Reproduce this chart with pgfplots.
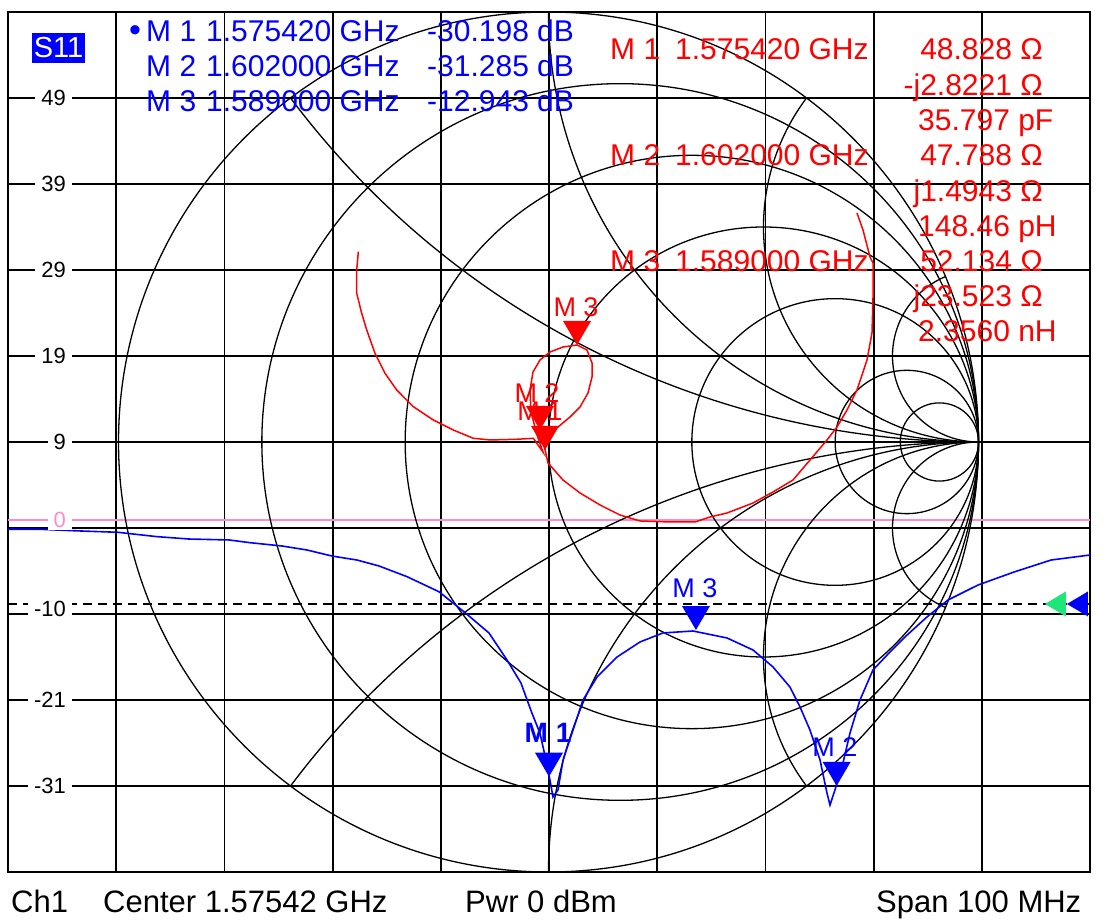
\documentclass[border=0pt]{standalone}
\usepackage{pgfplots}
\pgfplotsset{compat=1.18}
\usepackage{fontspec}
\setmainfont{Liberation Sans}
\definecolor{vnablue}{RGB}{0,0,255}
\definecolor{vnared}{RGB}{255,0,0}
\definecolor{vnapink}{RGB}{255,140,200}
\definecolor{vnagreen}{RGB}{30,230,120}
\pgfdeclareplotmark{tridown}{%
  \pgfpathmoveto{\pgfqpoint{0pt}{0pt}}%
  \pgfpathlineto{\pgfqpoint{-14pt}{24pt}}%
  \pgfpathlineto{\pgfqpoint{14pt}{24pt}}%
  \pgfpathclose\pgfusepathqfill}
\pgfdeclareplotmark{trileft}{%
  \pgfpathmoveto{\pgfqpoint{0pt}{0pt}}%
  \pgfpathlineto{\pgfqpoint{21pt}{12.5pt}}%
  \pgfpathlineto{\pgfqpoint{21pt}{-12.5pt}}%
  \pgfpathclose\pgfusepathqfill}
\newcommand{\fs}[1]{\fontsize{#1}{#1}\selectfont}
\pgfplotsset{vna/.style={at={(8pt,48pt)}, anchor=south west, width=1082pt, height=860pt, scale only axis},
  rect/.style={vna, xmin=1525.42, xmax=1625.42, ymin=-41.41, ymax=59.76}}
\begin{document}
\begin{tikzpicture}
\useasboundingbox[fill=white] (0pt,0pt) rectangle (1112pt,920pt);
% rectangular grid
\begin{axis}[rect,
  xtick={1535.42,1545.42,1555.42,1565.42,1575.42,1585.42,1595.42,1605.42,1615.42},
  ytick={49.65,39.53,29.41,19.29,9.18,-0.94,-11.06,-21.18,-31.29},
  xticklabels={}, yticklabels={},
  grid=major, major grid style={black, line width=1.8pt}, tick style={draw=none},
  axis line style={black, line width=2pt}]
\addplot[vnapink, line width=2pt] coordinates {(1525.42,0) (1625.42,0)};
\addplot[black, line width=1.5pt, dash pattern=on 9pt off 6pt] coordinates {(1525.42,-9.88) (1625.42,-9.88)};
\end{axis}
% Smith chart
\begin{axis}[vna, xmin=-1.2570, xmax=1.2593, ymin=-1, ymax=1, hide axis, clip=false]
\draw[black, line width=1.3pt] (axis cs:0,0) circle[radius=1];
\draw[black, line width=1.3pt] (axis cs:0.16667,0) circle[radius=0.83333];
\draw[black, line width=1.3pt] (axis cs:0.33333,0) circle[radius=0.66667];
\draw[black, line width=1.3pt] (axis cs:0.5,0) circle[radius=0.5];
\draw[black, line width=1.3pt] (axis cs:0.66667,0) circle[radius=0.33333];
\draw[black, line width=1.3pt] (axis cs:0.83333,0) circle[radius=0.16667];
\draw[black, line width=1.3pt] (axis cs:0.90909,0) circle[radius=0.090909];
\draw[black, line width=1.3pt] (axis cs:1,0) arc[start angle=-90, end angle=-143.13, radius=2];
\draw[black, line width=1.3pt] (axis cs:1,0) arc[start angle=-90, end angle=-180, radius=1];
\draw[black, line width=1.3pt] (axis cs:1,0) arc[start angle=-90, end angle=-216.87, radius=0.5];
\draw[black, line width=1.3pt] (axis cs:1,0) arc[start angle=-90, end angle=-247.38, radius=0.2];
\draw[black, line width=1.3pt] (axis cs:1,0) arc[start angle=90, end angle=143.13, radius=2];
\draw[black, line width=1.3pt] (axis cs:1,0) arc[start angle=90, end angle=180, radius=1];
\draw[black, line width=1.3pt] (axis cs:1,0) arc[start angle=90, end angle=216.87, radius=0.5];
\draw[black, line width=1.3pt] (axis cs:1,0) arc[start angle=90, end angle=247.38, radius=0.2];
\addplot[vnared, line width=1.5pt] coordinates {
(-0.4423,0.4426) (-0.4460,0.4000) (-0.4460,0.3458) (-0.4344,0.2993) (-0.4228,0.2605)
(-0.4035,0.2063) (-0.3802,0.1598) (-0.3530,0.1209) (-0.3144,0.0821) (-0.2679,0.0512)
(-0.2214,0.0279) (-0.1749,0.0086) (-0.1360,0.0047) (-0.0740,0.0063) (-0.0353,0.0086)
(-0.0128,-0.0233) (-0.0267,0.0163) (-0.0407,0.0698) (-0.0430,0.1209) (-0.0360,0.1628)
(-0.0198,0.1907) (0.0035,0.2093) (0.0337,0.2209) (0.0663,0.2256) (0.0895,0.2140)
(0.1012,0.1837) (0.1012,0.1512) (0.0919,0.1140) (0.0733,0.0814) (0.0500,0.0581)
(0.0221,0.0349) (-0.0058,0.0209) (-0.0198,0.0233) (-0.0105,-0.0070) (-0.0012,-0.0488)
(0.0337,-0.0884) (0.0733,-0.1186) (0.1198,-0.1465) (0.1663,-0.1698) (0.2128,-0.1837)
(0.2826,-0.1860) (0.3407,-0.1860) (0.3756,-0.1744) (0.4151,-0.1651) (0.4756,-0.1419)
(0.5221,-0.1163) (0.5686,-0.0884) (0.6081,-0.0419) (0.6477,0.0047) (0.6709,0.0349)
(0.6942,0.0744) (0.7174,0.1209) (0.7407,0.1907) (0.7523,0.2535) (0.7547,0.3372)
(0.7547,0.4163) (0.7477,0.4302) (0.7314,0.4930) (0.7174,0.5326)};
\addplot[only marks, mark=tridown, color=vnared] coordinates {(-0.0081,-0.0186) (-0.0198,0.0279) (0.0663,0.2256)};
\node[vnared, font=\fs{27}, inner sep=0pt] at (axis cs:0.0640,0.3140) {M 3};
\node[vnared, font=\fs{27}, inner sep=0pt] at (axis cs:-0.0198,0.0721) {M 1};
\node[vnared, font=\fs{27}, inner sep=0pt] at (axis cs:-0.0267,0.1140) {M 2};
\end{axis}
% blue log-mag trace
\begin{axis}[rect, hide axis, clip=false]
\addplot[vnablue, line width=1.6pt] coordinates {
(1525.42,-1.09) (1528.28,-1.09) (1531.43,-1.26) (1535.59,-1.45) (1539.19,-1.96)
(1542.15,-2.24) (1545.84,-2.35) (1547.79,-2.67) (1550.74,-3.06) (1553.05,-3.53)
(1555.36,-4.24) (1557.67,-4.71) (1559.71,-5.41) (1562.30,-6.67) (1565.25,-8.44)
(1567.56,-10.79) (1569.87,-13.29) (1571.54,-16.47) (1572.83,-19.18) (1573.84,-22.71)
(1574.58,-25.06) (1575.14,-28.24) (1575.51,-30.59) (1575.79,-32.59) (1576.25,-31.76)
(1576.72,-28.24) (1577.64,-24.71) (1578.56,-21.18) (1579.86,-18.47) (1581.71,-16.12)
(1583.83,-14.35) (1585.95,-13.29) (1588.73,-13.06) (1591.87,-13.88) (1594.27,-15.29)
(1596.12,-17.29) (1597.69,-19.65) (1598.62,-22.00) (1599.54,-24.71) (1600.47,-28.24)
(1601.11,-32.12) (1601.39,-33.53) (1601.85,-31.76) (1602.50,-29.06) (1603.24,-25.06)
(1604.16,-21.18) (1605.36,-17.65) (1606.93,-15.53) (1608.32,-13.76) (1610.35,-11.41)
(1612.30,-9.41) (1615.07,-7.65) (1618.40,-6.12) (1621.82,-4.71) (1625.42,-4.12)};
\addplot[only marks, mark=tridown, color=vnablue] coordinates {(1575.42,-30.198) (1602.00,-31.285) (1589.00,-12.943)};
\addplot[only marks, mark=trileft, color=vnagreen] coordinates {(1621.26,-9.88)};
\addplot[only marks, mark=trileft, color=vnablue] coordinates {(1623.29,-9.88)};
\node[vnablue, font=\fs{28}\bfseries, inner sep=0pt] at (axis cs:1575.33,-25.06) {M 1};
\node[vnablue, font=\fs{27}, inner sep=0pt] at (axis cs:1588.91,-8.0) {M 3};
\node[vnablue, font=\fs{27}, inner sep=0pt] at (axis cs:1601.85,-26.7) {M 2};
\end{axis}
% y tick labels
\begin{axis}[rect, axis line style={draw=none}, tick style={draw=none}, xtick=\empty,
  ytick={49.65,39.53,29.41,19.29,9.18,0,-10.47,-21.18,-31.29},
  yticklabels={\mbox{49},\mbox{39},\mbox{29},\mbox{19},\mbox{9},\mbox{\color{vnapink}0},\mbox{-10},\mbox{-21},\mbox{-31}},
  yticklabel style={anchor=east, xshift=64pt, fill=white, inner xsep=6pt, inner ysep=2pt, font=\fs{22}}]
\addplot[draw=none] coordinates {(1525.42,0) (1625.42,0)};
\end{axis}
% S11 badge
\node[fill=vnablue, text=white, font=\fs{29}, inner xsep=1.5pt, inner ysep=5pt] at (58.5pt,872pt) {S11};
% blue marker table
\begin{scope}[vnablue, font=\fs{30}]
\node[anchor=base west, inner sep=0pt] at (129pt,878pt) {\fs{34}•};
\node[anchor=base west, inner sep=0pt] at (146pt,878pt) {M 1};
\node[anchor=base west, inner sep=0pt] at (206pt,878pt) {1.575420 GHz};
\node[anchor=base west, inner sep=0pt] at (427pt,878pt) {-30.198 dB};
\node[anchor=base west, inner sep=0pt] at (146pt,843pt) {M 2};
\node[anchor=base west, inner sep=0pt] at (206pt,843pt) {1.602000 GHz};
\node[anchor=base west, inner sep=0pt] at (427pt,843pt) {-31.285 dB};
\node[anchor=base west, inner sep=0pt] at (146pt,808pt) {M 3};
\node[anchor=base west, inner sep=0pt] at (206pt,808pt) {1.589000 GHz};
\node[anchor=base west, inner sep=0pt] at (427pt,808pt) {-12.943 dB};
\end{scope}
% red marker table
\begin{scope}[vnared, font=\fs{30}]
\node[anchor=base west, inner sep=0pt] at (610pt,860pt) {M 1};
\node[anchor=base west, inner sep=0pt] at (675pt,860pt) {1.575420 GHz};
\node[anchor=base east, inner sep=0pt] at (1043pt,860pt) {48.828 Ω};
\node[anchor=base east, inner sep=0pt] at (1043pt,824.5pt) {-j2.8221 Ω};
\node[anchor=base west, inner sep=0pt] at (918pt,789pt) {35.797 pF};
\node[anchor=base west, inner sep=0pt] at (610pt,754pt) {M 2};
\node[anchor=base west, inner sep=0pt] at (675pt,754pt) {1.602000 GHz};
\node[anchor=base east, inner sep=0pt] at (1043pt,754pt) {47.788 Ω};
\node[anchor=base east, inner sep=0pt] at (1043pt,718.5pt) {j1.4943 Ω};
\node[anchor=base west, inner sep=0pt] at (918pt,683pt) {148.46 pH};
\node[anchor=base west, inner sep=0pt] at (610pt,648pt) {M 3};
\node[anchor=base west, inner sep=0pt] at (675pt,648pt) {1.589000 GHz};
\node[anchor=base east, inner sep=0pt] at (1043pt,648pt) {52.134 Ω};
\node[anchor=base east, inner sep=0pt] at (1043pt,613pt) {j23.523 Ω};
\node[anchor=base west, inner sep=0pt] at (918pt,578pt) {2.3560 nH};
\end{scope}
% status line
\begin{scope}[black, font=\fs{31}]
\node[anchor=base west, inner sep=0pt] at (11pt,7pt) {Ch1};
\node[anchor=base west, inner sep=0pt] at (103pt,7pt) {Center 1.57542 GHz};
\node[anchor=base west, inner sep=0pt] at (465pt,7pt) {Pwr 0 dBm};
\node[anchor=base west, inner sep=0pt] at (876pt,7pt) {Span 100 MHz};
\end{scope}
\end{tikzpicture}
\end{document}
